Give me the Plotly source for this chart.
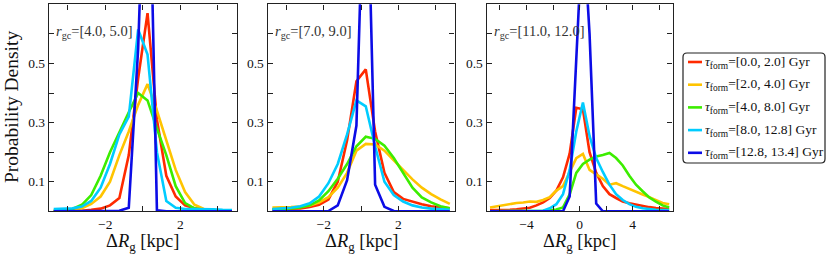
import plotly.graph_objects as go

# ---------------- data ----------------
x_bins_a = [-4.75, -4.25, -3.75, -3.25, -2.75, -2.25, -1.75, -1.25, -0.75, -0.25,
            0.25, 0.75, 1.25, 1.75, 2.25, 2.75, 3.25, 3.75, 4.25, 4.75]
x_bins_b = [-6.75, -6.25, -5.75, -5.25, -4.75, -4.25, -3.75, -3.25, -2.75, -2.25,
            -1.75, -1.25, -0.75, -0.25, 0.25, 0.75, 1.25, 1.75, 2.25, 2.75,
            3.25, 3.75, 4.25, 4.75, 5.25, 5.75, 6.25, 6.75]

panel_labels = ["[4.0, 5.0]", "[7.0, 9.0]", "[11.0, 12.0]"]
series_labels = ["[0.0, 2.0]", "[2.0, 4.0]", "[4.0, 8.0]", "[8.0, 12.8]", "[12.8, 13.4]"]

# panel 1: r_gc = [4, 5]
p1_red    = [0.001, 0.001, 0.001, 0.002, 0.005, 0.009, 0.02, 0.045, 0.19, 0.45,
             0.67, 0.31, 0.12, 0.05, 0.02, 0.01, 0.005, 0.003, 0.002, 0.001]
p1_orange = [0.001, 0.002, 0.004, 0.01, 0.025, 0.05, 0.1, 0.19, 0.27, 0.36,
             0.43, 0.34, 0.24, 0.14, 0.065, 0.022, 0.008, 0.004, 0.002, 0.001]
p1_green  = [0.002, 0.003, 0.008, 0.022, 0.055, 0.12, 0.2, 0.27, 0.335, 0.40,
             0.375, 0.28, 0.19, 0.085, 0.028, 0.01, 0.005, 0.003, 0.002, 0.001]
p1_cyan   = [0.008, 0.008, 0.01, 0.016, 0.035, 0.08, 0.16, 0.26, 0.32, 0.615,
             0.53, 0.2, 0.035, 0.012, 0.008, 0.008, 0.008, 0.007, 0.005, 0.004]
p1_blue   = [0.0, 0.0, 0.0, 0.0, 0.0, 0.001, 0.001, 0.002, 0.012, 0.55,
             1.5, 0.003, 0.0, 0.0, 0.0, 0.0, 0.0, 0.0, 0.0, 0.0]

# panel 2: r_gc = [7, 9]
p2_red    = [0.007, 0.008, 0.009, 0.01, 0.015, 0.022, 0.04, 0.1, 0.24, 0.44,
             0.48, 0.27, 0.13, 0.065, 0.042, 0.032, 0.024, 0.017, 0.013, 0.01]
p2_orange = [0.013, 0.013, 0.014, 0.016, 0.02, 0.03, 0.048, 0.08, 0.13, 0.205,
             0.228, 0.226, 0.205, 0.172, 0.14, 0.108, 0.08, 0.058, 0.04, 0.025]
p2_green  = [0.006, 0.007, 0.01, 0.013, 0.02, 0.037, 0.068, 0.11, 0.16, 0.22,
             0.252, 0.245, 0.222, 0.18, 0.13, 0.08, 0.047, 0.03, 0.017, 0.01]
p2_cyan   = [0.008, 0.009, 0.012, 0.017, 0.027, 0.05, 0.095, 0.16, 0.26, 0.375,
             0.355, 0.22, 0.1, 0.055, 0.033, 0.02, 0.013, 0.009, 0.007, 0.005]
p2_blue   = [0.0, 0.0, 0.0, 0.0, 0.0, 0.0, 0.001, 0.02, 0.105, 0.29,
             1.37, 0.09, 0.015, 0.001, 0.0, 0.0, 0.0, 0.0, 0.0, 0.0]

# panel 3: r_gc = [11, 12]
p3_red    = [0.004, 0.004, 0.005, 0.005, 0.007, 0.009, 0.012, 0.02, 0.03, 0.045,
             0.07, 0.115, 0.195, 0.35, 0.345, 0.2, 0.13, 0.085, 0.058, 0.045,
             0.033, 0.027, 0.022, 0.018, 0.014, 0.011, 0.009, 0.008]
p3_orange = [0.013, 0.017, 0.022, 0.026, 0.028, 0.03, 0.033, 0.032, 0.038, 0.048,
             0.07, 0.085, 0.13, 0.18, 0.194, 0.14, 0.125, 0.11, 0.09, 0.095,
             0.085, 0.075, 0.066, 0.057, 0.048, 0.038, 0.028, 0.024]
p3_green  = [0.0, 0.0, 0.0, 0.0, 0.0, 0.001, 0.001, 0.002, 0.002, 0.003,
             0.006, 0.013, 0.057, 0.13, 0.16, 0.175, 0.185, 0.19, 0.197, 0.18,
             0.155, 0.12, 0.09, 0.068, 0.047, 0.033, 0.02, 0.013]
p3_cyan   = [0.0, 0.0, 0.0, 0.0, 0.0, 0.0, 0.001, 0.001, 0.002, 0.01,
             0.024, 0.058, 0.14, 0.27, 0.368, 0.255, 0.18, 0.133, 0.09, 0.058,
             0.038, 0.024, 0.015, 0.01, 0.007, 0.005, 0.004, 0.004]
p3_blue   = [0.0, 0.0, 0.0, 0.0, 0.0, 0.0, 0.0, 0.0, 0.0, 0.0,
             0.0, 0.0, 0.05, 0.5, 0.98, 0.6, 0.026, 0.0, 0.0, 0.0,
             0.0, 0.0, 0.0, 0.0, 0.0, 0.0, 0.0, 0.0]

x_ticks_a = [-4, -2, 0, 2, 4]
x_text_a = ["", "\u22122", "", "2", ""]
x_ticks_b = [-6, -4, -2, 0, 2, 4, 6]
x_text_b = ["", "\u22124", "", "0", "", "4", ""]
y_ticks = [0.1, 0.2, 0.3, 0.4, 0.5, 0.6]
y_text = ["0.1", "", "0.3", "", "0.5", ""]

# ---------------- styling ----------------
W, H = 830, 254
SERIF = "Liberation Serif, Times New Roman, serif"
colors = ["#ff2a00", "#ffc400", "#3ced00", "#00ccff", "#0c0ce6"]
AX = "#222222"

def px2fx(px):
    return px / W

def py2fy(py):
    return 1 - py / H

panel_px = [(49.0, 236.7), (267.7, 454.5), (486.7, 672.5)]
y_top_px, y_bot_px = 4.3, 211.3
x_ranges = [[-5, 5], [-5, 5], [-7, 7]]

panels = [
    (x_bins_a, [p1_red, p1_orange, p1_green, p1_cyan, p1_blue], x_ticks_a, x_text_a),
    (x_bins_a, [p2_red, p2_orange, p2_green, p2_cyan, p2_blue], x_ticks_a, x_text_a),
    (x_bins_b, [p3_red, p3_orange, p3_green, p3_cyan, p3_blue], x_ticks_b, x_text_b),
]

fig = go.Figure()
layout = dict(
    width=W, height=H, margin=dict(l=0, r=0, t=0, b=0),
    paper_bgcolor="white", plot_bgcolor="white", showlegend=False,
    font=dict(family=SERIF, color="#111"),
)
annotations = []
shapes = []

for i, (xs, ys_list, xt, xtt) in enumerate(panels):
    n = "" if i == 0 else str(i + 1)
    for ys, c, lab in zip(ys_list, colors, series_labels):
        fig.add_trace(go.Scatter(
            x=xs, y=ys, mode="lines", name=lab,
            line=dict(color=c, width=2.6),
            xaxis="x" + n, yaxis="y" + n, showlegend=False,
        ))
    x0, x1 = panel_px[i]
    common = dict(showgrid=False, zeroline=False, showline=True, linecolor=AX,
                  linewidth=1.4, mirror="ticks", ticks="inside", ticklen=5,
                  tickwidth=1, tickcolor=AX,
                  tickfont=dict(family=SERIF, size=13.5, color="#111"))
    layout["xaxis" + n] = dict(domain=[px2fx(x0), px2fx(x1)], range=x_ranges[i],
                               anchor="y" + n, tickmode="array", tickvals=xt,
                               ticktext=xtt, **common)
    layout["yaxis" + n] = dict(domain=[py2fy(y_bot_px), py2fy(y_top_px)],
                               range=[0, 0.7], anchor="x" + n, tickmode="array",
                               tickvals=y_ticks, ticktext=y_text, **common)
    # panel label
    annotations.append(dict(
        xref="paper", yref="paper", x=px2fx(x0 + 5), y=py2fy(32),
        xanchor="left", yanchor="middle", showarrow=False,
        text="<i>r</i><sub>gc</sub>=" + panel_labels[i],
        font=dict(family=SERIF, size=14.5, color="#333"),
    ))
    # x title
    annotations.append(dict(
        xref="paper", yref="paper", x=px2fx((x0 + x1) / 2), y=py2fy(242),
        xanchor="center", yanchor="middle", showarrow=False,
        text="\u0394<i>R</i><sub>g</sub> [kpc]",
        font=dict(family=SERIF, size=18.5, color="#111"),
    ))

# y title
annotations.append(dict(
    xref="paper", yref="paper", x=px2fx(12), y=py2fy(107),
    xanchor="center", yanchor="middle", showarrow=False, textangle=-90,
    text="Probability Density", font=dict(family=SERIF, size=19.5, color="#111"),
))

# legend (box, line samples, labels)
lx0, lx1, ly0, ly1, r = 683.0, 825.0, 53.0, 163.0, 4.0
def P(px, py):
    return f"{px2fx(px):.5f},{py2fy(py):.5f}"
path = (f"M {P(lx0 + r, ly0)} L {P(lx1 - r, ly0)} Q {P(lx1, ly0)} {P(lx1, ly0 + r)} "
        f"L {P(lx1, ly1 - r)} Q {P(lx1, ly1)} {P(lx1 - r, ly1)} "
        f"L {P(lx0 + r, ly1)} Q {P(lx0, ly1)} {P(lx0, ly1 - r)} "
        f"L {P(lx0, ly0 + r)} Q {P(lx0, ly0)} {P(lx0 + r, ly0)} Z")
shapes.append(dict(type="path", xref="paper", yref="paper", path=path,
                   line=dict(color=AX, width=1.2), fillcolor="white", layer="above"))
for k, (c, lab) in enumerate(zip(colors, series_labels)):
    yk = 62.0 + 22.7 * k
    shapes.append(dict(type="line", xref="paper", yref="paper",
                       x0=px2fx(688), x1=px2fx(702), y0=py2fy(yk), y1=py2fy(yk),
                       line=dict(color=c, width=2.6), layer="above"))
    annotations.append(dict(
        xref="paper", yref="paper", x=px2fx(703), y=py2fy(yk),
        xanchor="left", yanchor="middle", showarrow=False,
        text="<i>\u03c4</i><sub>form</sub>=" + lab + " Gyr",
        font=dict(family=SERIF, size=13.5, color="#111"),
    ))

layout["annotations"] = annotations
layout["shapes"] = shapes
fig.update_layout(**layout)
fig.write_html("out.html", config={"displayModeBar": False},
               post_script="document.body.style.margin='0px';")
